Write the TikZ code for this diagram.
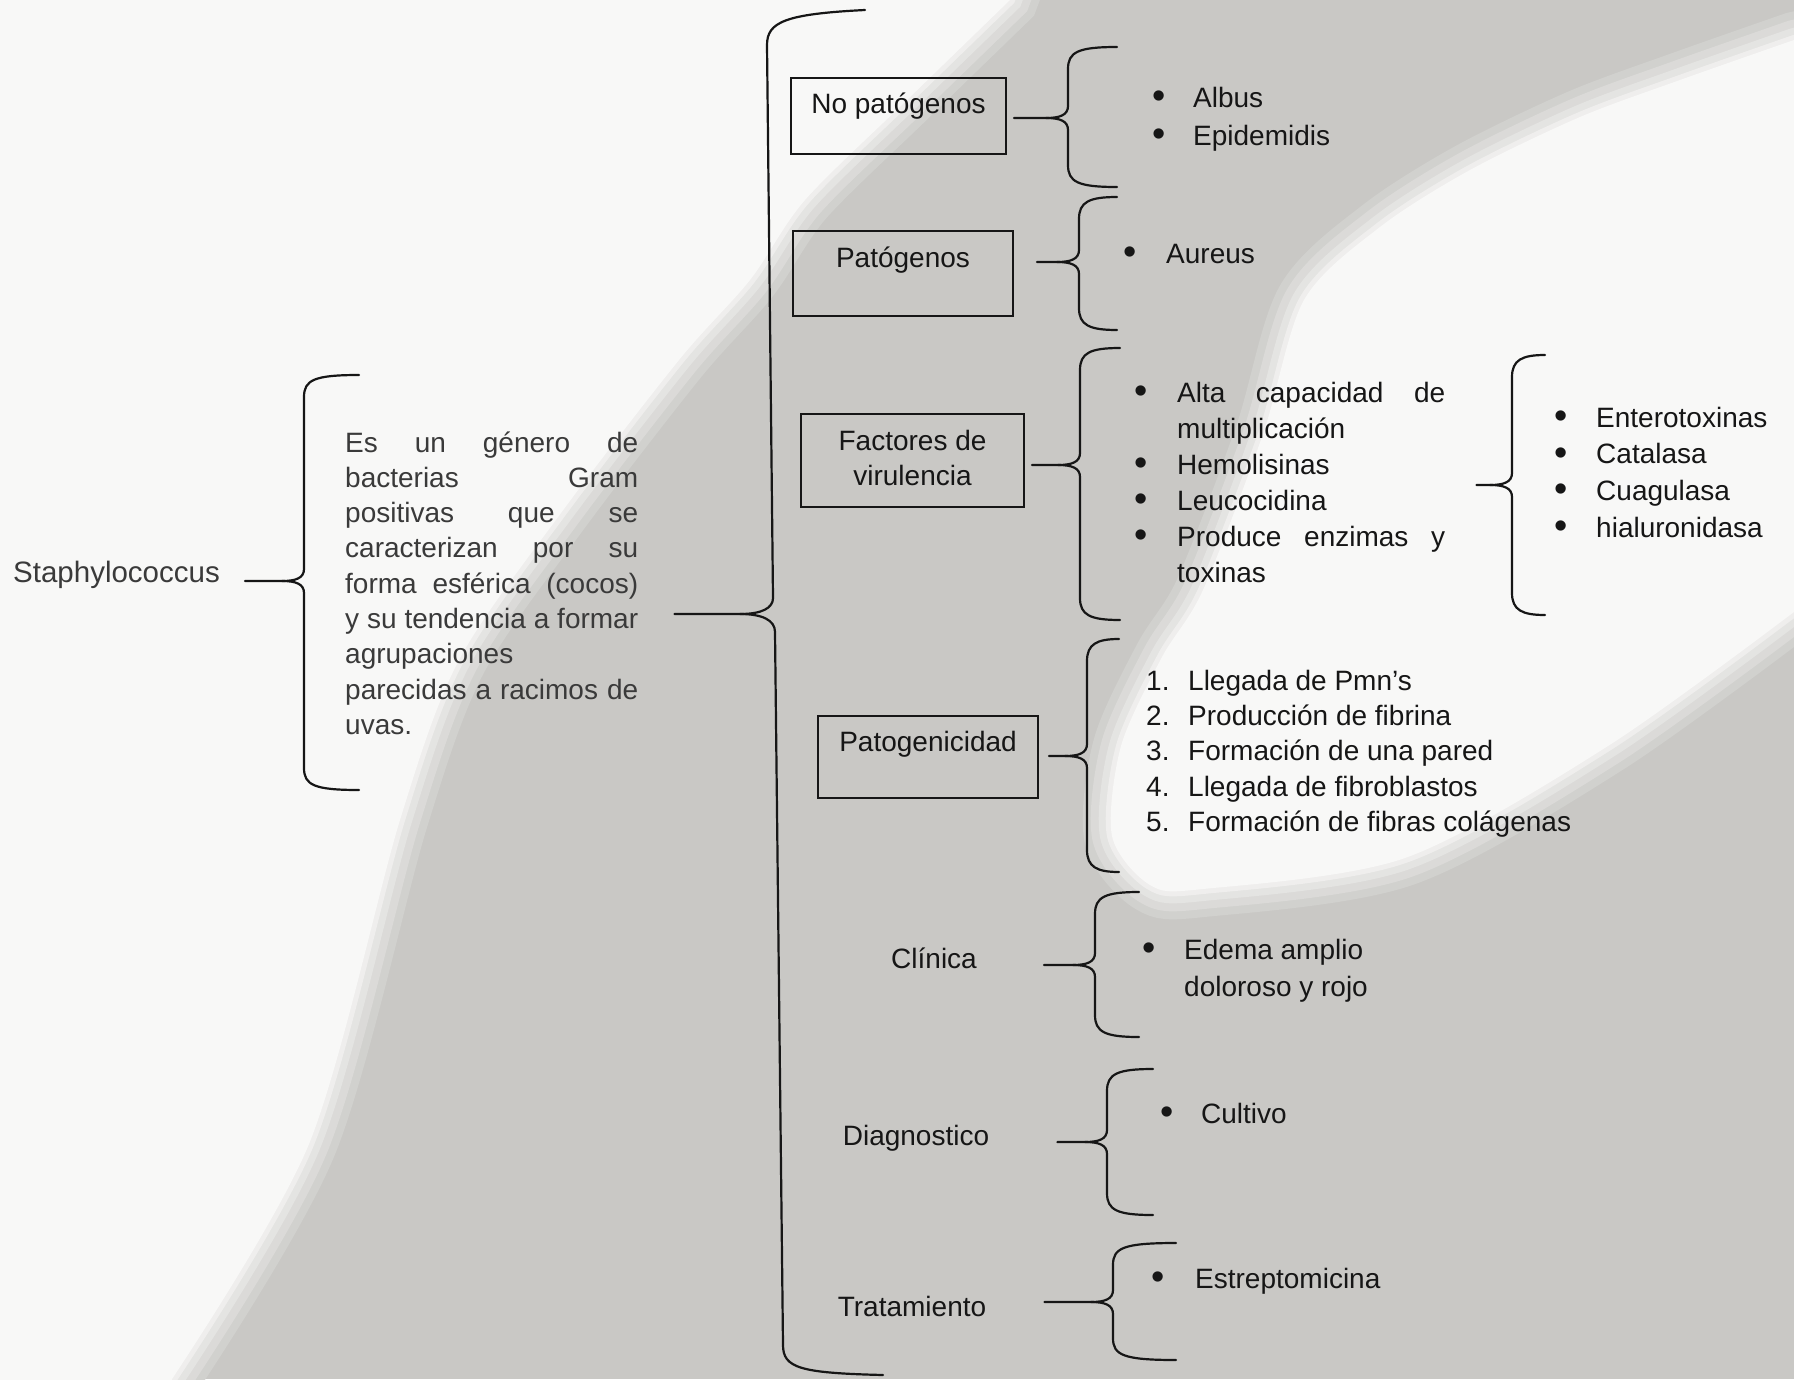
\documentclass[tikz,border=0pt]{standalone}
\usepackage{fontspec}
\setmainfont{Liberation Sans}
\definecolor{paper}{RGB}{201,200,197}
\definecolor{lit}{RGB}{248,248,247}
\definecolor{ink}{RGB}{22,22,22}
\definecolor{soft}{RGB}{58,58,58}
\newcommand\jline[2]{\makebox[#1][s]{#2}}
\newcommand\bl[1]{\makebox[#1][l]{\raisebox{-1.5pt}{\scalebox{1.35}{\textbullet}}}}
\newcommand\nm[2]{\makebox[#1][l]{#2}}
\newcommand\boxtxt[4]{\parbox[b][#2][t]{#1}{\centering\rule{0pt}{#3}#4}}
% brace: #1 node anchor, #2 gap, #3 x, #4 top, #5 mid, #6 bottom, #7 tip x
\newcommand\brc[7]{%
  \draw[brc] ([xshift=#2pt]#1 |- 0,#5) -- (#3-22,#5) .. controls (#3-8,#5) and (#3,#5-3) .. (#3,#5-12) -- (#3,#4+22) .. controls (#3,#4+5) and (#3+10,#4) .. (#7,#4);
  \draw[brc] (#3-22,#5) .. controls (#3-8,#5) and (#3,#5+3) .. (#3,#5+12) -- (#3,#6-22) .. controls (#3,#6-5) and (#3+10,#6) .. (#7,#6);
}
\newcommand\litA{(-80,-80) -- (1040,-80) -- plot[smooth] coordinates {(1010,0) (907,100) (805,200) (750,280) (679,360) (561,513) (459,660) (400,820) (309,1144) (172,1379)} -- (150,1460) -- (-80,1460) -- cycle}
\newcommand\litB{(1880,20) -- plot[smooth] coordinates {(1794,40) (1680,80) (1580,117) (1470,170) (1380,227) (1304,300) (1263,434) (1203,590) (1162,657) (1121,746) (1112,836) (1150,885) (1203,889) (1405,858) (1608,746) (1794,612)} -- (1880,600) -- cycle}
\begin{document}
\begin{tikzpicture}[x=1pt,y=-1pt,
  brc/.style={draw=ink, line width=2.2pt, line cap=round},
  txt/.style={inner sep=0pt, text=ink, font=\fontsize{28}{36}\selectfont},
  boxn/.style={draw=ink, line width=2pt, inner sep=0pt, text=ink, font=\fontsize{28}{35}\selectfont, anchor=north west},
  lst/.style={txt, anchor=base west}]
\useasboundingbox (0,0) rectangle (1794,1379);
% photographed paper: shadow and light
\begin{scope}
\clip (0,0) rectangle (1794,1379);
\fill[paper] (0,0) rectangle (1794,1379);
\draw[line width=56pt, color=paper!82!lit] \litA;
\draw[line width=40pt, color=paper!62!lit] \litA;
\draw[line width=24pt, color=paper!42!lit] \litA;
\draw[line width=10pt, color=paper!20!lit] \litA;
\fill[lit] \litA;
\draw[line width=56pt, color=paper!82!lit] \litB;
\draw[line width=40pt, color=paper!62!lit] \litB;
\draw[line width=24pt, color=paper!42!lit] \litB;
\draw[line width=10pt, color=paper!20!lit] \litB;
\fill[lit] \litB;
\end{scope}

% root and description
\node[txt, text=soft, anchor=base west, font=\fontsize{29.5}{36}\selectfont] (st) at (13,582) {Staphylococcus};
\node[txt, text=soft, anchor=base west] (desc) at (345,452) {\parbox[t]{293pt}{\fontsize{28}{35.3}\selectfont
\jline{293pt}{Es un género de}\\
\jline{293pt}{bacterias Gram}\\
\jline{293pt}{positivas que se}\\
\jline{293pt}{caracterizan por su}\\
\jline{293pt}{forma esférica (cocos)}\\
\jline{293pt}{y su tendencia a formar}\\
agrupaciones\\
\jline{293pt}{parecidas a racimos de}\\
uvas.}};

% categories
\node[boxn] (np) at (790,77) {\boxtxt{215pt}{76pt}{35pt}{No patógenos}};
\node[boxn] (pt) at (792,230) {\boxtxt{220pt}{85pt}{36pt}{Patógenos}};
\node[boxn] (fv) at (800,413) {\boxtxt{223pt}{93pt}{36pt}{Factores de\\virulencia}};
\node[boxn] (pg) at (817,715) {\boxtxt{220pt}{82pt}{35pt}{Patogenicidad}};
\node[txt, anchor=base] (cl) at (934,968) {Clínica};
\node[txt, anchor=base] (dg) at (916,1145) {Diagnostico};
\node[txt, anchor=base] (tr) at (912,1316) {Tratamiento};

% lists
\node[lst] (l1) at (1152,107) {\fontsize{28}{38}\selectfont\begin{tabular}[t]{@{}l@{}l@{}}
\bl{41pt} & Albus\\
\bl{41pt} & Epidemidis
\end{tabular}};
\node[lst] (l2) at (1123,263) {\begin{tabular}[t]{@{}l@{}l@{}}
\bl{43pt} & Aureus
\end{tabular}};
\node[lst] (l3) at (1134,402) {\fontsize{28}{36}\selectfont\begin{tabular}[t]{@{}l@{}l@{}}
\bl{43pt} & \jline{268pt}{Alta capacidad de}\\
 & multiplicación\\
\bl{43pt} & Hemolisinas\\
\bl{43pt} & Leucocidina\\
\bl{43pt} & \jline{268pt}{Produce enzimas y}\\
 & toxinas
\end{tabular}};
\node[lst] (l4) at (1554,427) {\fontsize{28}{36.7}\selectfont\begin{tabular}[t]{@{}l@{}l@{}}
\bl{42pt} & Enterotoxinas\\
\bl{42pt} & Catalasa\\
\bl{42pt} & Cuagulasa\\
\bl{42pt} & hialuronidasa
\end{tabular}};
\node[lst] (l5) at (1146,690) {\fontsize{28}{35.4}\selectfont\begin{tabular}[t]{@{}l@{}l@{}}
\nm{42pt}{1.} & Llegada de Pmn's\\
\nm{42pt}{2.} & Producción de fibrina\\
\nm{42pt}{3.} & Formación de una pared\\
\nm{42pt}{4.} & Llegada de fibroblastos\\
\nm{42pt}{5.} & Formación de fibras colágenas
\end{tabular}};
\node[lst] (l6) at (1142,959) {\fontsize{28}{37}\selectfont\begin{tabular}[t]{@{}l@{}l@{}}
\bl{42pt} & Edema amplio\\
 & doloroso y rojo
\end{tabular}};
\node[lst] (l7) at (1160,1123) {\begin{tabular}[t]{@{}l@{}l@{}}
\bl{41pt} & Cultivo
\end{tabular}};
\node[lst] (l8) at (1151,1288) {\begin{tabular}[t]{@{}l@{}l@{}}
\bl{44pt} & Estreptomicina
\end{tabular}};

% braces
\brc{st.east}{25}{304}{375}{581}{790}{359}
\draw[brc] ([xshift=36pt]desc.east |- 0,614) -- (740,614) .. controls (762,614) and (773,608) .. (773,598) -- (767,45) .. controls (767,22) and (785,14) .. (865,10);
\draw[brc] (740,614) .. controls (762,614) and (775,620) .. (775,632) -- (783,1345) .. controls (783,1368) and (800,1373) .. (883,1375);
\brc{np.east}{7}{1068}{47}{118}{187}{1117}
\brc{pt.east}{23}{1079}{197}{262}{330}{1117}
\brc{fv.east}{7}{1080}{348}{465}{620}{1120}
\brc{l3.east}{31}{1512}{355}{485}{615}{1545}
\brc{pg.east}{10}{1087}{639}{756}{872}{1119}
\brc{cl.east}{67}{1095}{892}{965}{1037}{1139}
\brc{dg.east}{68}{1107}{1069}{1142}{1215}{1153}
\brc{tr.east}{58}{1113}{1243}{1302}{1360}{1176}
\end{tikzpicture}
\end{document}
